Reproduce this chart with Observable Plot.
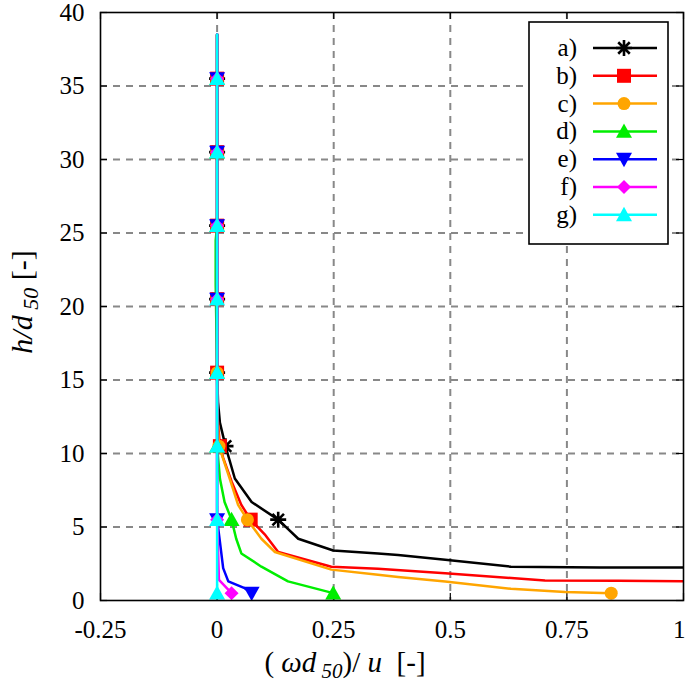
<!DOCTYPE html>
<html><head><meta charset="utf-8">
<script src="https://cdn.jsdelivr.net/npm/d3@7"></script>
<script src="https://cdn.jsdelivr.net/npm/@observablehq/plot@0.6"></script>
</head><body style="margin:0;background:#fff"><div id="chart"></div>
<script>
// ---- data ----
const seriesNames = ["a)", "b)", "c)", "d)", "e)", "f)", "g)"];
const markerH = [0.5, 5.5, 10.5, 15.5, 20.5, 25.5, 30.5, 35.5];
const xTicks = [-0.25, 0, 0.25, 0.5, 0.75, 1];
const yTicks = [0, 5, 10, 15, 20, 25, 30, 35, 40];

const aX = [0, 0, 0, 0, 0, 0, 0.002, 0.006, 0.018, 0.038, 0.074, 0.131, 0.174, 0.249, 0.345, 0.388, 0.489, 0.63, 0.82, 1.05];
const aH = [38.5, 35.5, 30.5, 25.5, 20.5, 15.5, 13.5, 12.1, 10.5, 8.3, 6.7, 5.5, 4.2, 3.4, 3.2, 3.1, 2.77, 2.3, 2.25, 2.25];
const bX = [0, 0, 0, 0, 0, 0, 0.001, 0.006, 0.013, 0.031, 0.052, 0.072, 0.102, 0.131, 0.245, 0.345, 0.489, 0.703, 0.86, 1.05];
const bH = [38.5, 35.5, 30.5, 25.5, 20.5, 15.5, 12.5, 10.5, 9.7, 8.1, 6.5, 5.5, 4.5, 3.3, 2.3, 2.16, 1.86, 1.36, 1.34, 1.3];
const cX = [0, 0, 0, 0, 0, 0, 0.001, 0.004, 0.027, 0.045, 0.065, 0.095, 0.124, 0.245, 0.345, 0.388, 0.489, 0.63, 0.746, 0.845];
const cH = [38.5, 35.5, 30.5, 25.5, 20.5, 15.5, 12.5, 10.5, 8.3, 6.5, 5.5, 4.2, 3.3, 2.1, 1.75, 1.6, 1.3, 0.8, 0.57, 0.5];
const dX = [0, 0, 0, 0, -0.003, -0.003, 0, 0, 0.006, 0.016, 0.031, 0.041, 0.052, 0.095, 0.152, 0.249];
const dH = [38.5, 35.5, 30.5, 25.5, 24.5, 21.5, 15.5, 10.5, 8.3, 6.7, 5.5, 4.2, 3.2, 2.3, 1.3, 0.5];
const eX = [0, 0, 0, 0, 0, 0, 0.006, 0.013, 0.024, 0.059, 0.074];
const eH = [38.5, 35.5, 30.5, 25.5, 20.5, 5.5, 4.0, 2.2, 1.3, 0.84, 0.5];
const fX = [0, 0, 0, 0, 0, 0, 0.004, 0.031];
const fH = [38.5, 35.5, 30.5, 25.5, 20.5, 5.5, 1.4, 0.5];
const gX = [0, 0, 0, 0, 0, 0, 0, 0, 0];
const gH = [38.5, 35.5, 30.5, 25.5, 20.5, 15.5, 10.5, 5.5, 0.5];

// ---- styles ----
const colors = ["#000000", "#ff0000", "#ffa500", "#00ee00", "#0000ff", "#ff00ff", "#00ffff"];
const W = 685, H = 683, mL = 100, mR = 2, mT = 12, mB = 83;
const innerW = W - mL - mR, innerH = H - mT - mB;
const FONT = "Liberation Serif";

function rOf(size) { return Math.sqrt(size / Math.PI); }
const symStar = {draw(c, size) { const r = rOf(size), q = r * 0.72;
  c.moveTo(-r, 0); c.lineTo(r, 0); c.moveTo(0, -r); c.lineTo(0, r);
  c.moveTo(-q, -q); c.lineTo(q, q); c.moveTo(-q, q); c.lineTo(q, -q); }};
const symSquare = {draw(c, size) { const r = rOf(size); c.rect(-r, -r, 2 * r, 2 * r); }};
const symCircle = {draw(c, size) { const r = rOf(size); c.moveTo(r, 0); c.arc(0, 0, r, 0, 2 * Math.PI); }};
const symUp = {draw(c, size) { const r = rOf(size); c.moveTo(0, -r); c.lineTo(r, 0.8 * r); c.lineTo(-r, 0.8 * r); c.closePath(); }};
const symDown = {draw(c, size) { const r = rOf(size); c.moveTo(0, r); c.lineTo(r, -0.8 * r); c.lineTo(-r, -0.8 * r); c.closePath(); }};
const symDiamond = {draw(c, size) { const r = rOf(size); c.moveTo(0, -r); c.lineTo(r, 0); c.lineTo(0, r); c.lineTo(-r, 0); c.closePath(); }};
const symbols = [symStar, symSquare, symCircle, symUp, symDown, symDiamond, symUp];
const radii = [8, 7, 6.5, 8, 8, 7, 8];

const xs = [aX, bX, cX, dX, eX, fX, gX];
const hs = [aH, bH, cH, dH, eH, fH, gH];
const series = seriesNames.map((name, i) => ({
  name, color: colors[i], symbol: symbols[i], r: radii[i],
  pts: xs[i].map((x, j) => ({x, h: hs[i][j]}))
}));

const marks = [
  Plot.gridX(xTicks.slice(1, -1), {stroke: "#888", strokeOpacity: 1, strokeWidth: 2, strokeDasharray: "7,6"}),
  Plot.gridY(yTicks.slice(1, -1), {stroke: "#888", strokeOpacity: 1, strokeWidth: 2, strokeDasharray: "7,6"}),
  Plot.ruleX(xTicks, {x: d => d, insetTop: innerH - 7, stroke: "#000", strokeWidth: 1.2}),
  Plot.ruleX(xTicks, {x: d => d, insetBottom: innerH - 7, stroke: "#000", strokeWidth: 1.2}),
  Plot.ruleY(yTicks, {y: d => d, insetRight: innerW - 7, stroke: "#000", strokeWidth: 1.2}),
  Plot.ruleY(yTicks, {y: d => d, insetLeft: innerW - 7, stroke: "#000", strokeWidth: 1.2}),
  Plot.axisX(xTicks.slice(0, -1), {tickSize: 0, tickPadding: 20, tickFormat: d => String(d), label: null, fontSize: 25, fontFamily: FONT}),
  Plot.axisX(xTicks.slice(-1), {tickSize: 0, tickPadding: 20, tickFormat: d => String(d), label: null, fontSize: 25, fontFamily: FONT, textAnchor: "end", dx: 2}),
  Plot.axisY(yTicks, {tickSize: 0, tickPadding: 16, tickFormat: d => String(d), label: null, fontSize: 25, fontFamily: FONT})
];
for (const s of series) {
  marks.push(Plot.line(s.pts, {x: "x", y: "h", stroke: s.color, strokeWidth: 2.5, clip: true}));
  const m = s.pts.filter(p => markerH.includes(p.h));
  if (s.symbol === symStar) {
    marks.push(Plot.dot(m, {x: "x", y: "h", symbol: s.symbol, r: s.r, stroke: s.color, fill: "none", strokeWidth: 2.6, clip: true}));
  } else {
    marks.push(Plot.dot(m, {x: "x", y: "h", symbol: s.symbol, r: s.r, fill: s.color, stroke: "none", clip: true}));
  }
}
marks.push(Plot.frame({stroke: "#000", strokeWidth: 1.6}));

const chart = Plot.plot({
  width: W, height: H,
  marginLeft: mL, marginRight: mR, marginTop: mT, marginBottom: mB,
  x: {domain: [-0.25, 1]},
  y: {domain: [0, 40]},
  style: {fontFamily: FONT, fontSize: "25px", background: "#fff", color: "#000", display: "block"},
  marks
});
document.getElementById("chart").append(chart);

// ---- titles and legend ----
const svg = d3.select(chart);
const yt = svg.append("text").attr("transform", "translate(32,302) rotate(-90)")
  .attr("text-anchor", "middle").attr("font-size", 30).attr("fill", "#000");
yt.append("tspan").attr("font-style", "italic").text("h/d");
yt.append("tspan").attr("font-style", "italic").attr("font-size", 22).attr("dy", 6).text(" 50");
yt.append("tspan").attr("dy", -6).text(" [-]");

const xt = svg.append("text").attr("x", 345).attr("y", 672)
  .attr("text-anchor", "middle").attr("font-size", 29).attr("fill", "#000");
xt.append("tspan").text("( ");
xt.append("tspan").attr("font-style", "italic").text("ωd");
xt.append("tspan").attr("font-style", "italic").attr("font-size", 21).attr("dy", 6).text(" 50");
xt.append("tspan").attr("dy", -6).text(")/ ");
xt.append("tspan").attr("font-style", "italic").text("u");
xt.append("tspan").text("  [-]");

const lg = svg.append("g");
lg.append("rect").attr("x", 529).attr("y", 22).attr("width", 139).attr("height", 222)
  .attr("fill", "#fff").attr("stroke", "#000").attr("stroke-width", 1.6);
series.forEach((s, i) => {
  const cy = 48 + i * 27.8;
  lg.append("text").attr("x", 577).attr("y", cy + 8).attr("text-anchor", "end")
    .attr("font-size", 25).attr("fill", "#000").text(s.name);
  lg.append("line").attr("x1", 593).attr("x2", 657).attr("y1", cy).attr("y2", cy)
    .attr("stroke", s.color).attr("stroke-width", 2.5);
  const p = d3.path();
  s.symbol.draw(p, Math.PI * s.r * s.r);
  const path = lg.append("path").attr("d", p.toString()).attr("transform", `translate(624,${cy})`);
  if (s.symbol === symStar) path.attr("fill", "none").attr("stroke", s.color).attr("stroke-width", 2.6);
  else path.attr("fill", s.color);
});
svg.selectAll("text").attr("font-family", FONT).style("font-family", FONT);
</script></body></html>
